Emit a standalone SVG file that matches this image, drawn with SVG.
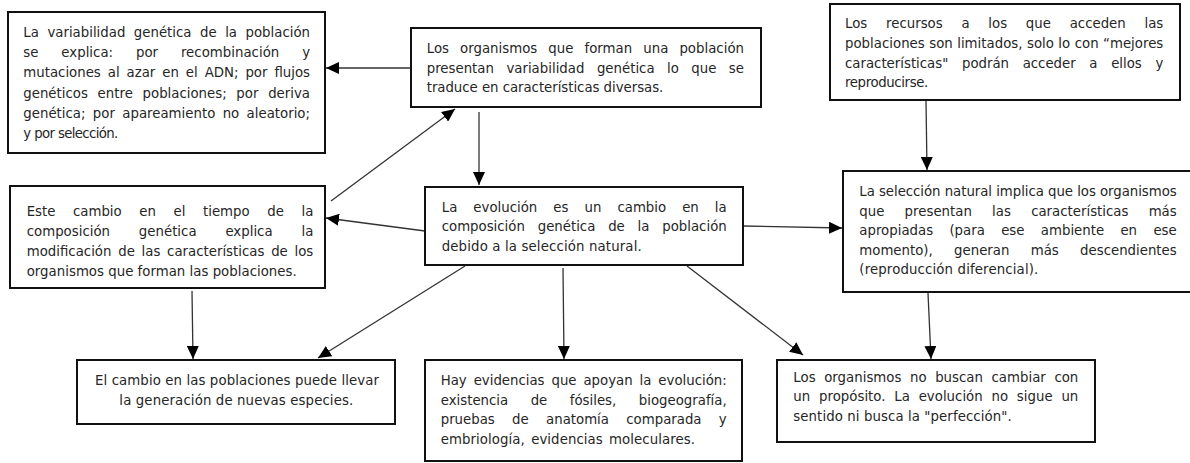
<svg xmlns="http://www.w3.org/2000/svg" width="1190" height="463" viewBox="0 0 1190 463">
<defs>
<style>
.box{fill:#fff;stroke:#111;stroke-width:2}
.t{font-family:"DejaVu Sans","Liberation Sans",sans-serif;font-size:13.3px;fill:#262626}
.m{text-anchor:middle}
.c{stroke:#333;stroke-width:1.3;fill:none}
</style>
<marker id="ah" markerUnits="userSpaceOnUse" markerWidth="14" markerHeight="12" refX="13" refY="6" orient="auto">
<path d="M0,0 L13,6 L0,12 Z" fill="#000"/>
</marker>
</defs>
<rect width="1190" height="463" fill="#fff"/>

<g id="connectors">
<line class="c" x1="411" y1="68" x2="326" y2="68" marker-end="url(#ah)"/>
<line class="c" x1="331" y1="201" x2="455" y2="109" marker-end="url(#ah)"/>
<line class="c" x1="479" y1="112" x2="479" y2="185" marker-end="url(#ah)"/>
<line class="c" x1="425" y1="231" x2="326" y2="218" marker-end="url(#ah)"/>
<line class="c" x1="743" y1="226" x2="842" y2="228" marker-end="url(#ah)"/>
<line class="c" x1="926" y1="101" x2="927" y2="170" marker-end="url(#ah)"/>
<line class="c" x1="192" y1="291" x2="193" y2="359" marker-end="url(#ah)"/>
<line class="c" x1="465" y1="266" x2="318" y2="358" marker-end="url(#ah)"/>
<line class="c" x1="563" y1="268" x2="564" y2="359" marker-end="url(#ah)"/>
<line class="c" x1="687" y1="266" x2="803" y2="355" marker-end="url(#ah)"/>
<line class="c" x1="928" y1="293" x2="931" y2="359" marker-end="url(#ah)"/>
</g>

<g id="n1">
<rect class="box" x="8" y="12" width="317" height="141"/>
<text class="t" x="23.3" y="37" word-spacing="4.3" textLength="286.7" lengthAdjust="spacing">La variabilidad genética de la población</text>
<text class="t" x="23.3" y="57.2" word-spacing="18.6" textLength="286.7" lengthAdjust="spacing">se explica: por recombinación y</text>
<text class="t" x="23.3" y="77.4" word-spacing="2.7" textLength="286.7" lengthAdjust="spacing">mutaciones al azar en el ADN; por flujos</text>
<text class="t" x="23.3" y="97.6" word-spacing="5.5" textLength="286.7" lengthAdjust="spacing">genéticos entre poblaciones; por deriva</text>
<text class="t" x="23.3" y="117.8" word-spacing="3.1" textLength="286.7" lengthAdjust="spacing">genética; por apareamiento no aleatorio;</text>
<text class="t" x="23.3" y="138" textLength="95" lengthAdjust="spacing">y por selección.</text>
</g>

<g id="n2">
<rect class="box" x="411" y="28" width="350" height="79"/>
<text class="t" x="426.7" y="53" word-spacing="6.8" textLength="317.3" lengthAdjust="spacing">Los organismos que forman una población</text>
<text class="t" x="426.7" y="72.5" word-spacing="8.2" textLength="317.3" lengthAdjust="spacing">presentan variabilidad genética lo que se</text>
<text class="t" x="426.7" y="92" textLength="236.6" lengthAdjust="spacing">traduce en características diversas.</text>
</g>

<g id="n3">
<rect class="box" x="830" y="4" width="350" height="96"/>
<text class="t" x="845" y="28.3" word-spacing="14.5" textLength="318.3" lengthAdjust="spacing">Los recursos a los que acceden las</text>
<text class="t" x="845" y="48" word-spacing="0.2" textLength="318.3" lengthAdjust="spacing">poblaciones son limitados, solo lo con “mejores</text>
<text class="t" x="845" y="67.7" word-spacing="9.4" textLength="318.3" lengthAdjust="spacing">características" podrán acceder a ellos y</text>
<text class="t" x="845" y="87.4" textLength="83.3" lengthAdjust="spacing">reproducirse.</text>
</g>

<g id="n4">
<rect class="box" x="10" y="186" width="315" height="102"/>
<text class="t" x="26.7" y="216" word-spacing="13.4" textLength="286.6" lengthAdjust="spacing">Este cambio en el tiempo de la</text>
<text class="t" x="26.7" y="236" word-spacing="24.6" textLength="286.6" lengthAdjust="spacing">composición genética explica la</text>
<text class="t" x="26.7" y="256" word-spacing="2.5" textLength="286.6" lengthAdjust="spacing">modificación de las características de los</text>
<text class="t" x="26.7" y="276" textLength="270" lengthAdjust="spacing">organismos que forman las poblaciones.</text>
</g>

<g id="n5">
<rect class="box" x="425" y="187" width="318" height="78"/>
<text class="t" x="441.7" y="211.5" word-spacing="11.8" textLength="285" lengthAdjust="spacing">La evolución es un cambio en la</text>
<text class="t" x="441.7" y="231.3" word-spacing="8.6" textLength="285" lengthAdjust="spacing">composición genética de la población</text>
<text class="t" x="441.7" y="251" textLength="200" lengthAdjust="spacing">debido a la selección natural.</text>
</g>

<g id="n6">
<rect class="box" x="843" y="171" width="352" height="121"/>
<text class="t" x="859.3" y="196" textLength="317.4" lengthAdjust="spacing">La selección natural implica que los organismos</text>
<text class="t" x="859.3" y="215.5" word-spacing="16" textLength="317.4" lengthAdjust="spacing">que presentan las características más</text>
<text class="t" x="859.3" y="235" word-spacing="12.1" textLength="317.4" lengthAdjust="spacing">apropiadas (para ese ambiente en ese</text>
<text class="t" x="859.3" y="254.5" word-spacing="17.1" textLength="317.4" lengthAdjust="spacing">momento), generan más descendientes</text>
<text class="t" x="859.3" y="274" textLength="179" lengthAdjust="spacing">(reproducción diferencial).</text>
</g>

<g id="n7">
<rect class="box" x="77" y="360" width="318" height="64"/>
<text class="t" x="95" y="385" textLength="284" lengthAdjust="spacing">El cambio en las poblaciones puede llevar</text>
<text class="t" x="119.3" y="405" textLength="234" lengthAdjust="spacing">la generación de nuevas especies.</text>
</g>

<g id="n8">
<rect class="box" x="425" y="360" width="317" height="101"/>
<text class="t" x="440.7" y="385" word-spacing="2.7" textLength="286" lengthAdjust="spacing">Hay evidencias que apoyan la evolución:</text>
<text class="t" x="440.7" y="404.5" word-spacing="18.2" textLength="286" lengthAdjust="spacing">existencia de fósiles, biogeografía,</text>
<text class="t" x="440.7" y="424" word-spacing="13.1" textLength="286" lengthAdjust="spacing">pruebas de anatomía comparada y</text>
<text class="t" x="440.7" y="443.5" word-spacing="2" textLength="254.3" lengthAdjust="spacing">embriología, evidencias moleculares.</text>
</g>

<g id="n9">
<rect class="box" x="777" y="360" width="318" height="82"/>
<text class="t" x="793.3" y="381.5" word-spacing="4.3" textLength="285" lengthAdjust="spacing">Los organismos no buscan cambiar con</text>
<text class="t" x="793.3" y="401" word-spacing="4.5" textLength="285" lengthAdjust="spacing">un propósito. La evolución no sigue un</text>
<text class="t" x="793.3" y="420.5" textLength="218.4" lengthAdjust="spacing">sentido ni busca la "perfección".</text>
</g>
</svg>
